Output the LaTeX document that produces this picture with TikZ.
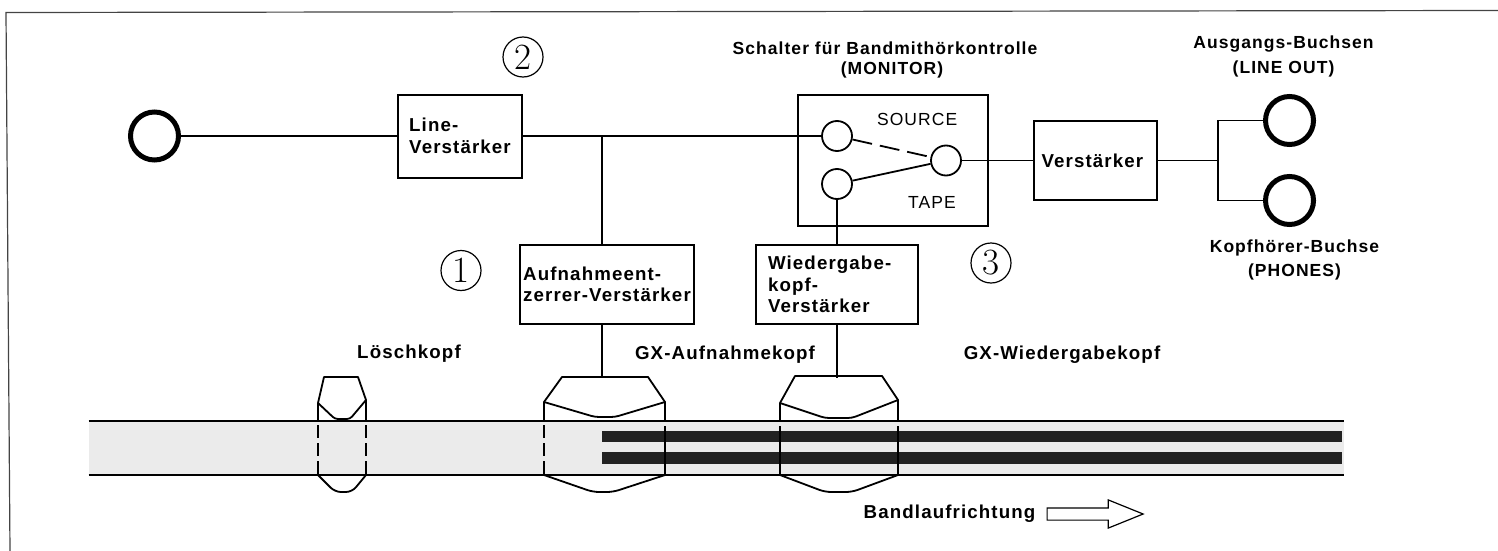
\documentclass[tikz,border=0pt]{standalone}
\usepackage{fontspec}
\usepackage{xcolor}
\usepackage{tikz}
\usetikzlibrary{positioning,shapes.arrows}
\newfontfamily\labelfont{Liberation Sans}[LetterSpace=6]
\definecolor{tapegray}{HTML}{EBEBEB}
\definecolor{trackdark}{HTML}{222222}
\definecolor{framegray}{HTML}{444444}

\begin{document}
\begin{tikzpicture}[
x=1pt,
y=-1pt,
wire/.style={line width=1.8pt},
headline/.style={line width=1.8pt, line join=round},
amp/.style={
	rectangle,
	draw,
	line width=2pt,
	align=left,
	inner sep=0pt,
	font=\labelfont\bfseries\fontsize{18.7}{21.5}\selectfont
},
jack/.style={
	circle,
	draw,
	line width=5pt,
	inner sep=0pt,
	minimum size=48pt
},
contact/.style={
	circle,
	draw,
	line width=1.8pt,
	inner sep=0pt,
	minimum size=30pt
},
caption/.style={
	align=center,
	inner sep=0pt,
	font=\labelfont\bfseries\fontsize{18.7}{21.5}\selectfont
},
topcaption/.style={
	align=center,
	inner sep=0pt,
	font=\labelfont\bfseries\fontsize{17.5}{21.5}\selectfont
},
position/.style={
	inner sep=0pt,
	font=\labelfont\fontsize{17.5}{21.5}\selectfont
},
numeral/.style={
	circle,
	draw,
	line width=1.2pt,
	inner sep=0pt,
	minimum size=40pt,
	font=\fontsize{37}{37}\selectfont
}
]
\useasboundingbox (0,0) rectangle (1498,551);

% frame
\draw[framegray, line width=1.2pt] (1498,10.5) -- (6,12.5) -- (10,551);

% tape
\fill[tapegray] (88.5,421) rectangle (1344,475);
\draw[wire, line width=1.4pt] (88.5,421) -- (1344,421);
\draw[wire, line width=1.4pt] (88.5,475) -- (1344,475);
\fill[trackdark] (602,431) rectangle (1342,442);
\fill[trackdark] (602,452) rectangle (1342,464);

% signal path
\node[jack] (jackin) at (154.5,136) {};
\node[amp, minimum width=124pt, minimum height=83pt, right=216pt of jackin] (linebox) {
	Line-\\
	Verstärker
};
\node[rectangle, draw, line width=2pt, minimum width=190pt, minimum height=131pt] (monbox) at (893,160.5) {};
\node[contact] (contactsrc) at (837,136) {};
\node[contact] (contacttape) at (837,184) {};
\node[contact] (contactcom) at (946,160.5) {};
\node[position, right=24pt of contactsrc, yshift=17pt] (source) {SOURCE};
\node[position] (tape) at (932,202) {TAPE};

\node[amp, minimum width=123pt, minimum height=79pt, right=44pt of monbox] (ampbox) {
	Verstärker
};
\coordinate[right=60pt of ampbox] (fork);
\node[jack, right=45pt of fork, yshift=40pt] (jackout) {};
\node[jack, right=45pt of fork, yshift=-40pt] (jackphones) {};

\node[amp, minimum width=162pt, minimum height=79pt, text width=138pt, below=44pt of contacttape] (playbox) {
	Wiedergabe-\\
	kopf-\\
	Verstärker
};
\node[amp, minimum width=174pt, minimum height=79pt, left=60pt of playbox] (eqbox) {
	Aufnahmeent-\\
	zerrer-Verstärker
};

\coordinate (tee) at (602,136);
\coordinate (rechead) at (602,377);
\coordinate[below=53pt of playbox] (playhead);

\draw[wire] (jackin) -- (linebox);
\draw[wire] (linebox) -- (contactsrc);
\draw[wire] (tee) -- (tee |- eqbox.north);
\draw[wire] (tee |- eqbox.south) -- (rechead);
\draw[wire] (contacttape) -- (playbox);
\draw[wire] (playbox) -- (playhead);
\draw[wire, dash pattern=on 20pt off 8pt] (contactsrc) -- (contactcom);
\draw[wire] (contacttape) -- (contactcom);
\draw[wire] (contactcom) -- (ampbox);
\draw[wire] (ampbox) -- (fork);
\draw[wire] (jackout) -| (fork) |- (jackphones);

% erase head
\draw[headline] (318,421) -- (318,403) -- (324,377) -- (358,377) -- (366,400) -- (366,421);
\draw[headline, rounded corners=3pt] (318,403) -- (335,419) -- (350,419) -- (366,400);
\draw[headline, dash pattern=on 13pt off 5pt] (318,425) -- (318,475);
\draw[headline, dash pattern=on 13pt off 5pt] (366,425) -- (366,475);
\draw[headline, rounded corners=6pt] (318,475) -- (335,492) -- (352,492) -- (366,475);

% record head
\draw[headline] (544,421) -- (544,402) -- (562,377) -- (648,377) -- (665,402) -- (665,421);
\draw[headline, rounded corners=4pt] (544,402) -- (595,417) -- (615,417) -- (665,402);
\draw[headline, dash pattern=on 13pt off 5pt] (544,425) -- (544,475);
\draw[headline] (665,426) -- (665,475);
\draw[headline, rounded corners=6pt] (544,475) -- (593,492) -- (613,492) -- (665,475);

% playback head
\draw[headline] (780,421) -- (780,403) -- (795,376) -- (882,376) -- (898,400) -- (898,421);
\draw[headline, rounded corners=4pt] (780,403) -- (825,418) -- (852,418) -- (898,400);
\draw[headline] (780,426) -- (780,475);
\draw[headline] (898,426) -- (898,475);
\draw[headline, rounded corners=6pt] (780,475) -- (825,492) -- (852,492) -- (898,475);

% labels
\node[topcaption] (monlabel) at (885,60) {
	Schalter für Bandmithörkontrolle\\[-1.5pt]
	\hspace{14pt}(MONITOR)
};
\node[topcaption, above=17pt of jackout, xshift=-6pt] (outlabel) {
	Ausgangs-Buchsen\\[3pt]
	(LINE OUT)
};
\node[topcaption, below=13pt of jackphones, xshift=5pt] (phoneslabel) {
	Kopfhörer-Buchse\\[2pt]
	(PHONES)
};
\node[caption] (eraselabel) at (409,354) {Löschkopf};
\node[caption] (reclabel) at (725,355) {GX-Aufnahmekopf};
\node[caption] (playlabel) at (1062,355) {GX-Wiedergabekopf};

\node[numeral] (numtwo) at (523,57) {2};
\node[numeral] (numone) at (461,270.5) {1};
\node[numeral] (numthree) at (991,263) {3};

\node[caption] (flowlabel) at (949.5,514) {Bandlaufrichtung};
\node[
	single arrow,
	draw,
	line width=1.2pt,
	inner sep=0pt,
	minimum height=96pt,
	minimum width=27pt,
	single arrow head extend=8pt,
	single arrow tip angle=44,
	right=11pt of flowlabel
] (flowarrow) {\rule{0pt}{11pt}};

\end{tikzpicture}
\end{document}
